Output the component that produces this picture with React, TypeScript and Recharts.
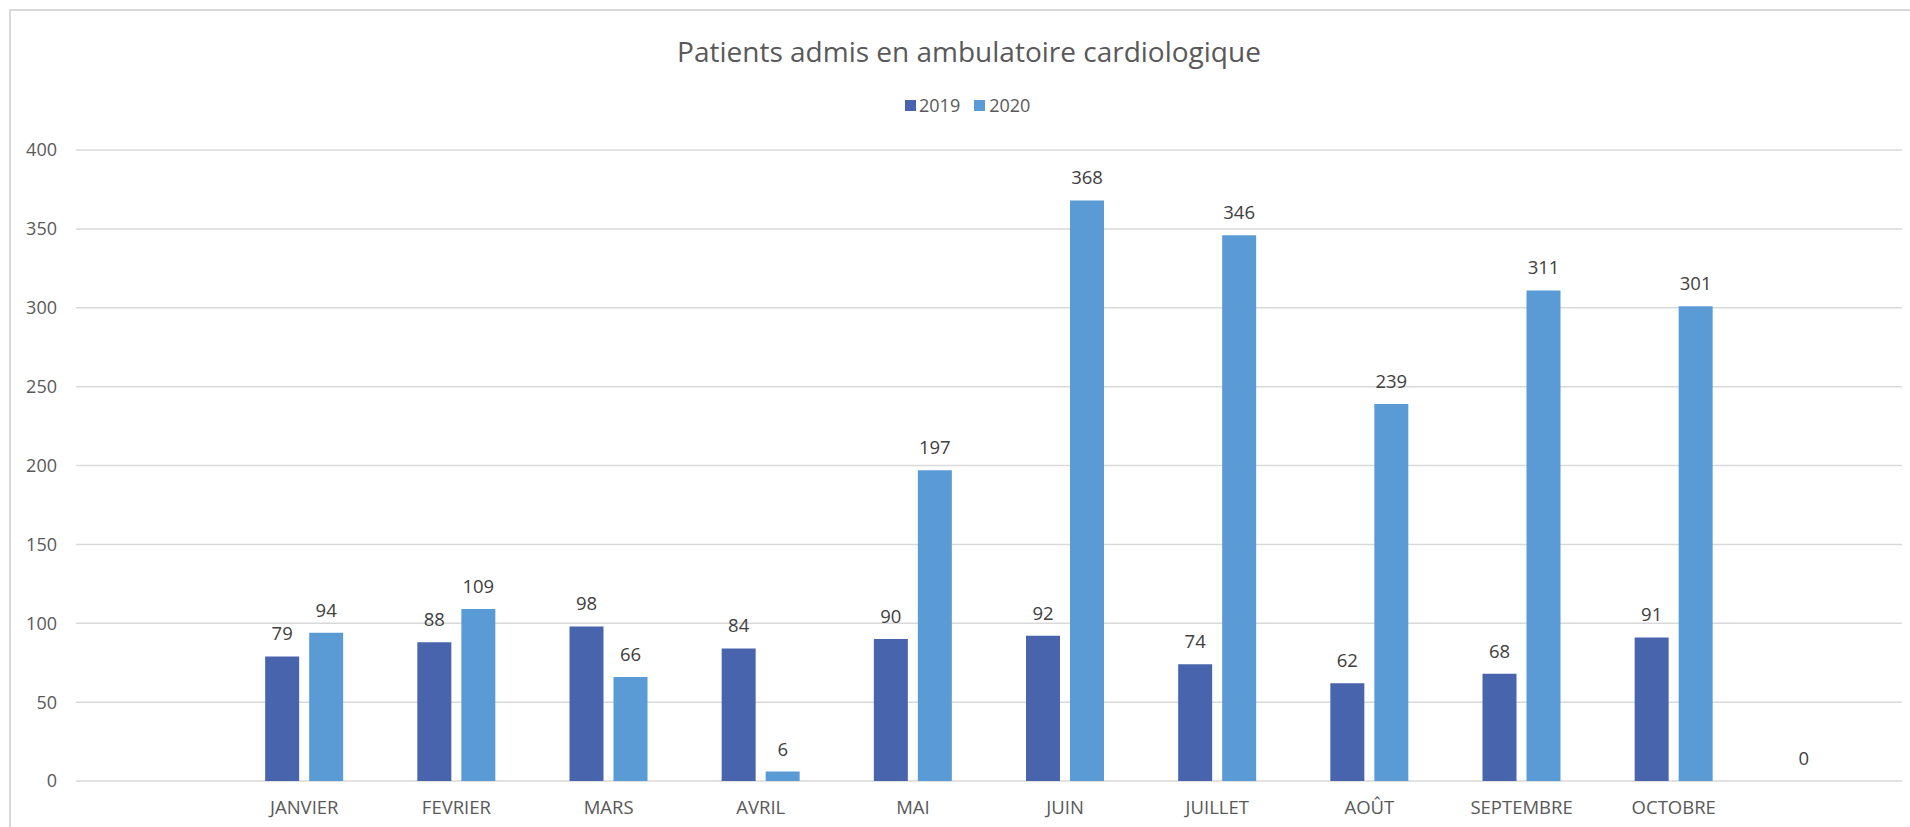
import { BarChart, Bar, XAxis, YAxis, CartesianGrid, LabelList } from "recharts";

// empty slot before JANVIER and after OCTOBRE, as in the original sheet
const mois = ["", "JANVIER", "FEVRIER", "MARS", "AVRIL", "MAI", "JUIN", "JUILLET", "AOÛT", "SEPTEMBRE", "OCTOBRE", " "];
const patients2019 = [null, 79, 88, 98, 84, 90, 92, 74, 62, 68, 91, 0];
const patients2020 = [null, 94, 109, 66, 6, 197, 368, 346, 239, 311, 301, null];
const yTicks = [0, 50, 100, 150, 200, 250, 300, 350, 400];

const COL_2019 = "#4864AD";
const COL_2020 = "#5B9BD5";
const FONT = "'Open Sans', sans-serif";

const data = mois.map((m, i) => ({ mois: m, a2019: patients2019[i], a2020: patients2020[i] }));

function ValueLabel(props: any) {
  const { x, y, width, value } = props;
  if (value == null) return null;
  return (
    <text x={x + width / 2} y={y - 16} textAnchor="middle" fontSize={18.5} fill="#404040" fontFamily={FONT}>
      {value}
    </text>
  );
}

// a zero value still needs its rect so the "0" label gets drawn
const keepZero = (v: any) => (v === 0 ? 0.01 : 0);

export default function App() {
  return (
    <div style={{ position: "absolute", left: 0, top: 0, width: 1910, height: 827, overflow: "hidden", background: "#fff", fontFamily: FONT }}>
      <div
        style={{
          position: "absolute",
          left: 9,
          top: 9,
          width: 1940,
          height: 860,
          borderLeft: "2px solid #d9d9d9",
          borderTop: "2px solid #d9d9d9",
        }}
      />
      <div
        style={{
          position: "absolute",
          left: 0,
          width: 1938,
          top: 35,
          textAlign: "center",
          fontSize: 28,
          lineHeight: "32px",
          color: "#595959",
        }}
      >
        Patients admis en ambulatoire cardiologique
      </div>
      <div
        style={{
          position: "absolute",
          left: 905,
          top: 93,
          display: "flex",
          alignItems: "center",
          fontSize: 18,
          lineHeight: "24px",
          color: "#595959",
        }}
      >
        <span style={{ width: 11, height: 11, background: COL_2019, marginRight: 3 }} />
        <span style={{ marginRight: 14 }}>2019</span>
        <span style={{ width: 11, height: 11, background: COL_2020, marginRight: 4 }} />
        <span>2020</span>
      </div>
      <div style={{ position: "absolute", left: 0, top: 0 }}>
        <BarChart
          width={1910}
          height={827}
          data={data}
          margin={{ top: 150, right: 8, bottom: 16, left: 16 }}
          barSize={34}
          barGap={10}
        >
          <CartesianGrid vertical={false} stroke="#d9d9d9" strokeWidth={1.5} />
          <XAxis
            dataKey="mois"
            height={30}
            axisLine={false}
            tickLine={false}
            tickSize={0}
            tickMargin={20}
            interval={0}
            tick={{ fontSize: 18.5, fill: "#595959", fontFamily: FONT }}
          />
          <YAxis
            width={60}
            domain={[0, 400]}
            ticks={yTicks}
            axisLine={false}
            tickLine={false}
            tickSize={0}
            tickMargin={19}
            tick={{ fontSize: 18, fill: "#595959", fontFamily: FONT }}
          />
          <Bar dataKey="a2019" name="2019" fill={COL_2019} minPointSize={keepZero} isAnimationActive={false}>
            <LabelList dataKey="a2019" content={ValueLabel} />
          </Bar>
          <Bar dataKey="a2020" name="2020" fill={COL_2020} isAnimationActive={false}>
            <LabelList dataKey="a2020" content={ValueLabel} />
          </Bar>
        </BarChart>
      </div>
    </div>
  );
}
